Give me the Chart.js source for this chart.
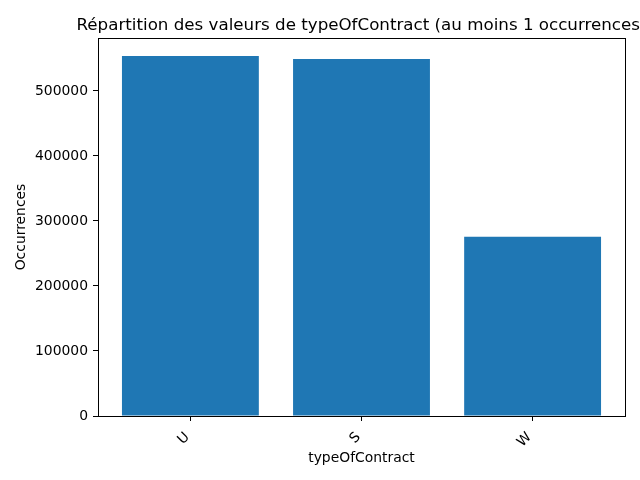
<!DOCTYPE html>
<html>
<head>
<meta charset="utf-8">
<script src="https://cdn.jsdelivr.net/npm/chart.js@4"></script>
<style>
html,body{margin:0;padding:0;background:#fff;}
canvas{display:block;}
</style>
</head>
<body>
<canvas id="c" width="640" height="480"></canvas>
<script>
const categories = ["U", "S", "W"];
const occurrences = [553800, 549200, 275700];
const yTicks = [0, 100000, 200000, 300000, 400000, 500000];
const titleText = "Répartition des valeurs de typeOfContract (au moins 1 occurrences)";
const xTitle = "typeOfContract";
const yTitle = "Occurrences";

const FONT = "'DejaVu Sans', sans-serif";
const yMax = Math.max(...occurrences) * 1.05;
const n = categories.length;
const xMin = -0.4 - (n - 1 + 0.8) * 0.05;
const xMax = (n - 1) + 0.4 + (n - 1 + 0.8) * 0.05;

const framePlugin = {
  id: 'frame',
  afterDraw(chart) {
    const {ctx, chartArea: a} = chart;
    ctx.save();
    ctx.strokeStyle = '#000';
    ctx.lineWidth = 1;
    ctx.strokeRect(Math.round(a.left) + 0.5, Math.round(a.top) + 0.5,
                   Math.round(a.right - a.left), Math.round(a.bottom - a.top));
    ctx.fillStyle = '#000';
    ctx.font = "16.7px " + FONT;
    ctx.textAlign = 'center';
    ctx.textBaseline = 'alphabetic';
    ctx.fillText(titleText, (a.left + a.right) / 2, 30);
    ctx.restore();
  }
};

new Chart(document.getElementById('c'), {
  type: 'bar',
  data: {
    datasets: [{
      data: categories.map((c, i) => ({x: i, y: occurrences[i]})),
      backgroundColor: '#1f77b4',
      borderWidth: 0,
      inflateAmount: 0,
      barPercentage: 0.8,
      categoryPercentage: 1.0
    }]
  },
  options: {
    responsive: false,
    devicePixelRatio: 1,
    animation: false,
    layout: {padding: {left: 0, right: 15, top: 38, bottom: 0}},
    plugins: {legend: {display: false}, tooltip: {enabled: false}, title: {display: false}},
    scales: {
      x: {
        type: 'linear',
        min: xMin,
        max: xMax,
        offset: false,
        afterBuildTicks(scale) {
          scale.ticks = categories.map((c, i) => ({value: i}));
        },
        afterFit(scale) { scale.height = 64; },
        grid: {offset: false, drawOnChartArea: false, drawTicks: true, tickLength: 5, color: '#000'},
        border: {display: true, color: '#000'},
        ticks: {
          autoSkip: false,
          minRotation: 45,
          maxRotation: 45,
          padding: 5,
          color: '#000',
          font: {family: FONT, size: 13.9},
          callback: (v) => (categories[Math.round(v)] ?? '') + ' '
        },
        title: {display: true, text: xTitle, color: '#000', font: {family: FONT, size: 13.9}, padding: {top: 0, bottom: 13}}
      },
      y: {
        min: 0,
        max: yMax,
        afterBuildTicks(scale) {
          scale.ticks = yTicks.map(v => ({value: v}));
        },
        afterFit(scale) { scale.width = 98; },
        grid: {drawOnChartArea: false, drawTicks: true, tickLength: 5, color: '#000'},
        border: {display: true, color: '#000'},
        ticks: {
          padding: 5,
          color: '#000',
          font: {family: FONT, size: 13.9},
          callback: (v) => String(v)
        },
        title: {display: true, text: yTitle, color: '#000', font: {family: FONT, size: 13.9}, padding: {top: 13, bottom: 0}}
      }
    }
  },
  plugins: [framePlugin]
});
</script>
</body>
</html>
